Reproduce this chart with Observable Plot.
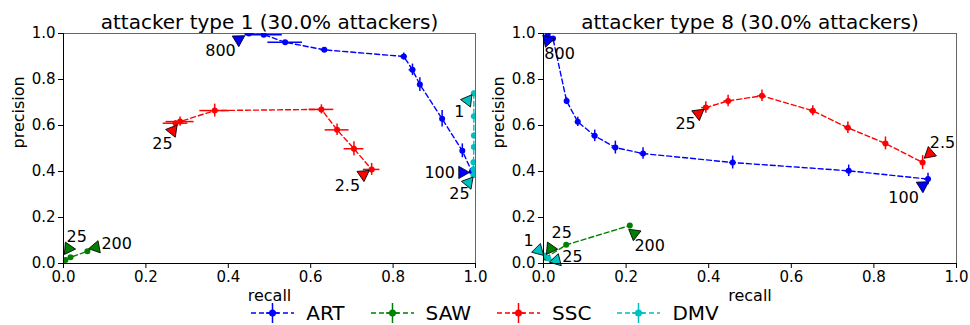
<!DOCTYPE html>
<html><head><meta charset="utf-8">
<script src="https://cdn.jsdelivr.net/npm/d3@7"></script>
<script src="https://cdn.jsdelivr.net/npm/@observablehq/plot@0.6"></script>
<style>
body{margin:0;background:#fff;font-family:"DejaVu Sans",sans-serif;}
#wrap{position:relative;width:970px;height:325px;overflow:hidden;background:#fff;}
.panel{position:absolute;top:0;}
#legend{position:absolute;left:0;top:304px;width:970px;height:18px;line-height:18px;display:flex;justify-content:center;align-items:center;font-size:20px;color:#000;}
#legend .item{display:flex;align-items:center;height:18px;}
#legend svg{margin-right:12px;overflow:visible;}
#legend .lab{margin-right:26px;}
#legend .item:last-child .lab{margin-right:0;}
</style></head><body><div id="wrap"><div id="legend"></div></div>
<script>
// ---- data: [recall, precision, recallErr, precisionErr] ----
const seriesNames = ["ART", "SAW", "SSC", "DMV"];
const seriesColors = ["#0000ff", "#008000", "#ff0000", "#00bfbf"];
const tickValues = [0, 0.2, 0.4, 0.6, 0.8, 1.0];
const titles = ["attacker type 1 (30.0% attackers)", "attacker type 8 (30.0% attackers)"];

const type1_ART = [[0.45,1.0,0.01,0.0],[0.486,0.995,0.045,0.005],[0.538,0.962,0.042,0.008],[0.633,0.929,0.008,0.008],[0.826,0.900,0.008,0.015],[0.847,0.842,0.008,0.025],[0.865,0.778,0.006,0.03],[0.919,0.629,0.004,0.036],[0.968,0.490,0.004,0.03],[0.991,0.400,0.003,0.01]];
const type1_SAW = [[0.005,0.015,0.003,0.003],[0.017,0.027,0.004,0.004],[0.058,0.053,0.004,0.004]];
const type1_SSC = [[0.272,0.610,0.03,0.01],[0.283,0.617,0.034,0.02],[0.367,0.665,0.036,0.028],[0.626,0.670,0.03,0.02],[0.664,0.581,0.029,0.025],[0.705,0.499,0.024,0.03],[0.748,0.409,0.02,0.026]];
const type1_DMV = [[0.996,0.74,0.002,0.01],[0.996,0.64,0.002,0.01],[0.996,0.557,0.002,0.01],[0.996,0.506,0.002,0.01],[0.995,0.44,0.002,0.01],[0.995,0.41,0.002,0.01],[0.995,0.385,0.002,0.01]];

const type8_ART = [[0.010,0.995,0.003,0.005],[0.023,0.978,0.004,0.008],[0.056,0.706,0.005,0.015],[0.083,0.616,0.006,0.02],[0.124,0.555,0.007,0.025],[0.174,0.504,0.008,0.028],[0.241,0.478,0.008,0.025],[0.458,0.439,0.008,0.028],[0.739,0.403,0.008,0.025],[0.931,0.367,0.008,0.025]];
const type8_SAW = [[0.005,0.025,0.003,0.003],[0.055,0.081,0.004,0.005],[0.209,0.165,0.004,0.006]];
const type8_SSC = [[0.393,0.678,0.01,0.025],[0.447,0.707,0.01,0.025],[0.529,0.729,0.01,0.025],[0.652,0.664,0.008,0.022],[0.737,0.590,0.008,0.025],[0.828,0.522,0.006,0.028],[0.918,0.439,0.006,0.03]];
const type8_DMV = [[0.002,0.035,0.002,0.003],[0.012,0.022,0.003,0.003],[0.025,0.010,0.003,0.003]];

// annotations: [series, label, markerRecall, markerPrecision, textRecall, textPrecision]
const type1_notes = [
  ["ART","800",0.425,0.974,0.381,0.926],
  ["ART","100",0.968,0.396,0.913,0.396],
  ["SAW","25",0.012,0.065,0.032,0.117],
  ["SAW","200",0.078,0.070,0.129,0.087],
  ["SSC","25",0.265,0.578,0.240,0.522],
  ["SSC","2.5",0.728,0.387,0.689,0.339],
  ["DMV","1",0.981,0.709,0.961,0.661],
  ["DMV","25",0.983,0.352,0.961,0.304]
];
const type8_notes = [
  ["ART","800",0.010,0.970,0.039,0.913],
  ["ART","100",0.918,0.339,0.872,0.287],
  ["SAW","25",0.017,0.065,0.044,0.135],
  ["SAW","200",0.220,0.130,0.257,0.078],
  ["SSC","25",0.375,0.652,0.344,0.609],
  ["SSC","2.5",0.935,0.478,0.966,0.526],
  ["DMV","1",-0.012,0.057,-0.036,0.100],
  ["DMV","25",0.031,0.013,0.070,0.030]
];

const colorOf = name => seriesColors[seriesNames.indexOf(name)];

function panel(title, seriesList, notes, left, ml, mr) {
  const W = 485, H = 305, mt = 33, mb = 42;
  const pxX = W - ml - mr, pxY = H - mt - mb;
  const marks = [Plot.frame({stroke: "#666", strokeWidth: 1})];
  seriesList.forEach((arr, i) => {
    const c = seriesColors[i];
    const rows = arr.map(([r, p, re, pe]) => ({r, p, re, pe}));
    marks.push(Plot.line(rows, {x: "r", y: "p", stroke: c, strokeWidth: 1.4, strokeDasharray: "5,3", clip: true}));
    marks.push(Plot.ruleY(rows, {y: "p", x1: d => d.r - d.re, x2: d => d.r + d.re, stroke: c, strokeWidth: 1.5, clip: true}));
    marks.push(Plot.ruleX(rows, {x: "r", y1: d => d.p - d.pe, y2: d => d.p + d.pe, stroke: c, strokeWidth: 1.5, clip: true}));
    marks.push(Plot.dot(rows, {x: "r", y: "p", r: 3, fill: c, stroke: "none", clip: true}));
  });
  const noteRows = notes.map(([s, label, mx, my, tx, ty]) => {
    const dx = (mx - tx) * pxX, dy = -(my - ty) * pxY;
    return {s, label, mx, my, tx, ty, fill: colorOf(s), rot: Math.atan2(dy, dx) * 180 / Math.PI + 90};
  });
  marks.push(Plot.dot(noteRows, {x: "mx", y: "my", symbol: "triangle", r: 4.6, fill: "fill", stroke: "black", strokeWidth: 0.8, rotate: "rot"}));
  marks.push(Plot.text(noteRows, {x: "tx", y: "ty", text: "label", fontSize: 16, fill: "black", textAnchor: "middle", lineAnchor: "middle"}));
  marks.push(Plot.ruleX([0], {stroke: "black", strokeWidth: 1}));
  marks.push(Plot.ruleY([0], {stroke: "black", strokeWidth: 1}));
  marks.push(Plot.axisX({ticks: tickValues, tickFormat: d3.format(".1f"), fontSize: 15, tickSize: 5, tickPadding: 3, label: null}));
  marks.push(Plot.axisY({ticks: tickValues, tickFormat: d3.format(".1f"), fontSize: 15, tickSize: 5, tickPadding: 3, label: null}));
  marks.push(Plot.text([title], {frameAnchor: "top", dy: -5, lineAnchor: "bottom", fontSize: 20, text: d => d, fill: "black"}));
  marks.push(Plot.text(["recall"], {frameAnchor: "bottom", dy: 37, lineAnchor: "bottom", fontSize: 16, text: d => d, fill: "black"}));
  marks.push(Plot.text(["precision"], {frameAnchor: "left", dx: -45, rotate: -90, lineAnchor: "middle", fontSize: 16, text: d => d, fill: "black"}));
  const svg = Plot.plot({
    width: W, height: H, marginLeft: ml, marginRight: mr, marginTop: mt, marginBottom: mb,
    x: {domain: [0, 1]}, y: {domain: [0, 1]},
    color: {type: "identity"},
    style: {fontFamily: "DejaVu Sans", color: "black", background: "transparent", overflow: "visible"},
    marks
  });
  svg.classList.add("panel");
  svg.style.left = left + "px";
  document.getElementById("wrap").appendChild(svg);
}

panel(titles[0], [type1_ART, type1_SAW, type1_SSC, type1_DMV], type1_notes, 0, 63, 10);
panel(titles[1], [type8_ART, type8_SAW, type8_SSC, type8_DMV], type8_notes, 485, 58, 14);

// legend
const leg = d3.select("#legend");
seriesNames.forEach((name, i) => {
  const c = seriesColors[i];
  const it = leg.append("div").attr("class", "item");
  const s = it.append("svg").attr("width", 43).attr("height", 18);
  s.append("line").attr("x1", 0).attr("x2", 43).attr("y1", 9).attr("y2", 9).attr("stroke", c).attr("stroke-width", 1.5).attr("stroke-dasharray", "5,3");
  s.append("line").attr("x1", 15).attr("x2", 28).attr("y1", 9).attr("y2", 9).attr("stroke", c).attr("stroke-width", 1.5);
  s.append("line").attr("x1", 21.5).attr("x2", 21.5).attr("y1", -1).attr("y2", 19).attr("stroke", c).attr("stroke-width", 1.5);
  s.append("circle").attr("cx", 21.5).attr("cy", 9).attr("r", 3.5).attr("fill", c);
  it.append("span").attr("class", "lab").text(name);
});
</script>
</body></html>
